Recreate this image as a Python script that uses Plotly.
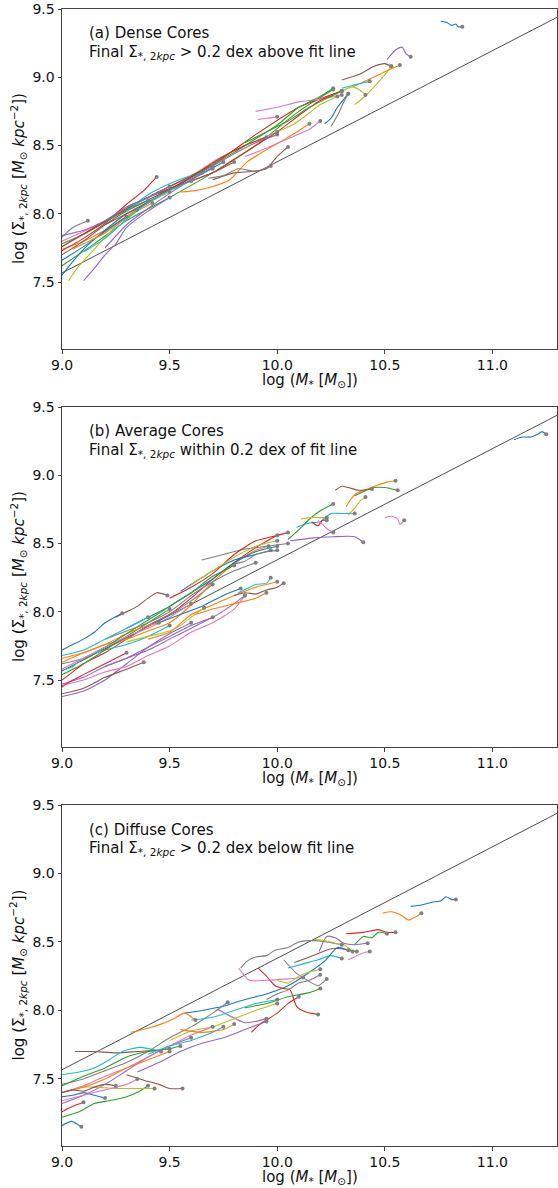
import plotly.graph_objects as go

# ---------------- data ----------------
FIT_X = [9.0, 11.3]
FIT_Y = [7.567, 9.439]

# Panel (a) Dense cores: tracks (x lists, y lists)
A_X = [
    [10.76, 10.79, 10.81, 10.83, 10.84, 10.86],
    [9.0, 9.1, 9.2, 9.3, 9.42],
    [9.0, 9.15, 9.3, 9.5, 9.7, 9.9, 10.1, 10.26],
    [9.0, 9.1, 9.2, 9.3, 9.38, 9.44],
    [9.1, 9.15, 9.2, 9.25, 9.3, 9.4, 9.5],
    [9.0, 9.1, 9.2, 9.3, 9.4, 9.5, 9.6, 9.7],
    [9.0, 9.1, 9.25, 9.4, 9.55, 9.7, 9.85, 10.0],
    [9.0, 9.05, 9.12],
    [9.03, 9.08, 9.15, 9.22, 9.3, 9.4, 9.5],
    [9.0, 9.1, 9.2, 9.35, 9.5, 9.6, 9.7],
    [9.0, 9.05, 9.1, 9.2, 9.3, 9.45, 9.6, 9.75],
    [9.55, 9.62, 9.7, 9.78, 9.86, 9.95, 10.05, 10.15],
    [9.0, 9.1, 9.2, 9.3, 9.4],
    [9.0, 9.15, 9.3, 9.5, 9.7, 9.9, 10.1, 10.3],
    [9.2, 9.3, 9.4, 9.5, 9.6, 9.7],
    [9.7, 9.8, 9.88, 9.95, 10.0, 10.05],
    [9.9, 10.0, 10.1, 10.2, 10.3],
    [9.3, 9.4, 9.5, 9.6, 9.7, 9.8, 9.9, 10.0],
    [10.36, 10.40, 10.45, 10.5, 10.53],
    [9.3, 9.4, 9.5, 9.6, 9.65],
    [10.22, 10.25, 10.28, 10.31, 10.33],
    [10.35, 10.42, 10.5, 10.57],
    [9.6, 9.7, 9.8, 9.9, 10.0, 10.1, 10.2, 10.26],
    [9.5, 9.6, 9.7, 9.8, 9.9, 10.0, 10.1, 10.2, 10.3],
    [10.51, 10.55, 10.58, 10.60, 10.62],
    [10.30, 10.38, 10.45, 10.50, 10.53],
    [9.91, 9.95, 10.0],
    [10.25, 10.28, 10.31, 10.33],
    [10.30, 10.35, 10.38, 10.41],
    [10.30, 10.35, 10.40, 10.43],
    [9.0, 9.1, 9.2, 9.3],
    [9.05, 9.1, 9.2, 9.3, 9.35],
    [9.85, 9.95, 10.05, 10.15, 10.25, 10.3],
    [9.45, 9.55, 9.65, 9.75, 9.85, 9.95],
    [9.0, 9.1, 9.2, 9.3, 9.4, 9.5],
    [9.2, 9.3, 9.4, 9.5, 9.6, 9.7, 9.8],
    [9.85, 9.95, 10.05, 10.15, 10.2],
    [9.68, 9.75, 9.82, 9.9, 9.97],
    [10.0, 10.08, 10.15, 10.2, 10.28],
    [9.1, 9.2, 9.3, 9.4, 9.5, 9.6],
]
A_Y = [
    [9.41, 9.40, 9.38, 9.39, 9.37, 9.37],
    [7.74, 7.80, 7.88, 7.98, 8.08],
    [7.62, 7.78, 7.95, 8.12, 8.30, 8.50, 8.75, 8.91],
    [7.73, 7.82, 7.93, 8.07, 8.17, 8.27],
    [7.51, 7.60, 7.70, 7.78, 7.90, 8.02, 8.12],
    [7.70, 7.80, 7.92, 8.02, 8.10, 8.18, 8.27, 8.36],
    [7.80, 7.87, 7.99, 8.12, 8.22, 8.38, 8.50, 8.60],
    [7.83, 7.90, 7.95],
    [7.51, 7.62, 7.74, 7.86, 7.98, 8.08, 8.16],
    [7.76, 7.85, 7.94, 8.08, 8.20, 8.27, 8.33],
    [7.55, 7.65, 7.74, 7.88, 8.00, 8.13, 8.25, 8.38],
    [8.16, 8.17, 8.20, 8.25, 8.38, 8.47, 8.56, 8.66],
    [7.78, 7.85, 7.94, 8.03, 8.10],
    [7.76, 7.90, 8.04, 8.20, 8.36, 8.58, 8.78, 8.90],
    [7.75, 7.92, 8.04, 8.15, 8.25, 8.34],
    [8.25, 8.30, 8.31, 8.33, 8.42, 8.49],
    [8.75, 8.78, 8.82, 8.84, 8.87],
    [8.05, 8.12, 8.18, 8.26, 8.35, 8.44, 8.52, 8.58],
    [8.80, 8.85, 8.93, 9.02, 9.08],
    [8.02, 8.14, 8.22, 8.28, 8.30],
    [8.66, 8.70, 8.78, 8.84, 8.88],
    [8.93, 8.98, 9.04, 9.09],
    [8.28, 8.36, 8.45, 8.55, 8.65, 8.78, 8.86, 8.92],
    [8.18, 8.24, 8.30, 8.40, 8.50, 8.60, 8.72, 8.83, 8.90],
    [9.13, 9.20, 9.22, 9.17, 9.15],
    [8.98, 9.02, 9.08, 9.10, 9.08],
    [8.69, 8.70, 8.71],
    [8.64, 8.72, 8.82, 8.88],
    [8.90, 8.93, 8.91, 8.87],
    [8.92, 8.94, 8.96, 8.97],
    [7.66, 7.76, 7.87, 7.98],
    [7.74, 7.78, 7.86, 7.97, 8.03],
    [8.52, 8.60, 8.68, 8.78, 8.86, 8.90],
    [8.15, 8.22, 8.32, 8.42, 8.50, 8.56],
    [7.84, 7.88, 7.95, 8.05, 8.12, 8.20],
    [7.92, 8.00, 8.08, 8.18, 8.24, 8.30, 8.38],
    [8.42, 8.48, 8.55, 8.62, 8.68],
    [8.26, 8.28, 8.33, 8.31, 8.35],
    [8.60, 8.66, 8.74, 8.80, 8.86],
    [7.72, 7.82, 7.96, 8.08, 8.17, 8.24],
]

# Panel (b) Average cores
B_X = [
    [11.10, 11.14, 11.18, 11.21, 11.23, 11.25],
    [10.32, 10.34, 10.37, 10.42, 10.47, 10.51, 10.55],
    [10.36, 10.40, 10.45, 10.50, 10.56],
    [9.0, 9.05, 9.1, 9.2, 9.3, 9.4, 9.5, 9.6, 9.7, 9.8, 9.9, 10.0],
    [10.06, 10.16, 10.26, 10.36, 10.40],
    [10.27, 10.30, 10.33, 10.38, 10.44],
    [10.50, 10.53, 10.56, 10.57, 10.59],
    [9.0, 9.1, 9.2, 9.3, 9.4, 9.5, 9.6, 9.7],
    [10.33, 10.36, 10.39, 10.41],
    [10.09, 10.15, 10.20, 10.25, 10.30, 10.36],
    [9.0, 9.05, 9.1, 9.15, 9.2, 9.28],
    [9.0, 9.1, 9.2, 9.3, 9.4, 9.5, 9.6, 9.7, 9.8, 9.9, 9.96],
    [10.05, 10.10, 10.15, 10.20, 10.26],
    [10.16, 10.19, 10.21, 10.23],
    [9.0, 9.1, 9.2, 9.3, 9.4, 9.5, 9.6],
    [9.25, 9.3, 9.35, 9.4, 9.44, 9.49],
    [10.19, 10.21, 10.23, 10.26],
    [9.65, 9.75, 9.85, 9.95, 10.05],
    [10.11, 10.15, 10.20, 10.23],
    [9.0, 9.05, 9.1, 9.2, 9.3, 9.4, 9.5],
    [9.55, 9.6, 9.7, 9.8, 9.9, 9.97],
    [9.4, 9.5, 9.6, 9.7, 9.8, 9.9, 10.0],
    [9.0, 9.1, 9.2, 9.3, 9.4, 9.5],
    [9.5, 9.6, 9.7, 9.8, 9.9, 10.0, 10.05],
    [9.0, 9.1, 9.2, 9.3, 9.4, 9.5, 9.6, 9.7],
    [9.8, 9.85, 9.9, 9.95, 10.0, 10.03],
    [9.0, 9.1, 9.2, 9.3, 9.4, 9.5, 9.6, 9.7, 9.8, 9.85],
    [9.8, 9.85, 9.9, 9.95, 10.0],
    [9.3, 9.4, 9.5, 9.55, 9.6, 9.66],
    [9.82, 9.86, 9.9, 9.95, 9.97],
    [9.3, 9.4, 9.5, 9.6, 9.7, 9.8, 9.9, 10.0],
    [9.0, 9.1, 9.2, 9.3, 9.4, 9.45],
    [9.1, 9.2, 9.3, 9.4, 9.5, 9.6, 9.7, 9.8],
    [9.0, 9.05, 9.1, 9.2, 9.3],
    [9.2, 9.3, 9.4, 9.5, 9.6, 9.7, 9.8, 9.85],
    [9.0, 9.1, 9.2, 9.3, 9.38],
    [9.0, 9.1, 9.2, 9.3, 9.4, 9.5, 9.6],
    [9.2, 9.3, 9.4, 9.5, 9.6, 9.7, 9.8, 9.9],
    [9.6, 9.7, 9.8, 9.9, 10.0],
    [9.0, 9.1, 9.2, 9.3, 9.4],
    [9.45, 9.55, 9.65, 9.75, 9.83],
    [9.62, 9.7, 9.8, 9.9, 9.95],
]
B_Y = [
    [9.26, 9.28, 9.28, 9.30, 9.32, 9.30],
    [8.77, 8.82, 8.87, 8.90, 8.93, 8.95, 8.96],
    [8.85, 8.88, 8.91, 8.91, 8.89],
    [7.50, 7.56, 7.62, 7.70, 7.80, 7.90, 7.98, 8.10, 8.24, 8.36, 8.47, 8.56],
    [8.52, 8.54, 8.55, 8.55, 8.51],
    [8.89, 8.92, 8.91, 8.89, 8.90],
    [8.69, 8.70, 8.68, 8.64, 8.67],
    [7.62, 7.66, 7.74, 7.80, 7.90, 7.98, 8.08, 8.20],
    [8.71, 8.76, 8.82, 8.84],
    [8.62, 8.65, 8.66, 8.72, 8.72, 8.72],
    [7.72, 7.76, 7.80, 7.85, 7.92, 7.99],
    [7.66, 7.70, 7.76, 7.80, 7.86, 7.92, 8.05, 8.22, 8.35, 8.45, 8.48],
    [8.53, 8.60, 8.68, 8.74, 8.79],
    [8.66, 8.63, 8.67, 8.67],
    [7.38, 7.42, 7.50, 7.62, 7.74, 7.84, 7.92],
    [7.96, 8.00, 8.04, 8.10, 8.14, 8.12],
    [8.67, 8.64, 8.61, 8.58],
    [8.38, 8.42, 8.46, 8.48, 8.50],
    [8.68, 8.69, 8.69, 8.69],
    [7.57, 7.60, 7.66, 7.72, 7.76, 7.82, 7.90],
    [8.15, 8.20, 8.30, 8.38, 8.42, 8.45],
    [7.80, 7.85, 7.98, 8.05, 8.12, 8.18, 8.22],
    [7.54, 7.62, 7.72, 7.82, 7.92, 8.02],
    [8.10, 8.18, 8.28, 8.42, 8.52, 8.56, 8.58],
    [7.47, 7.52, 7.60, 7.66, 7.72, 7.80, 7.88, 7.96],
    [8.12, 8.14, 8.13, 8.16, 8.18, 8.21],
    [7.46, 7.50, 7.56, 7.60, 7.68, 7.75, 7.85, 7.92, 8.02, 8.12],
    [8.35, 8.37, 8.42, 8.44, 8.45],
    [7.78, 7.82, 7.86, 7.90, 7.96, 8.03],
    [8.14, 8.17, 8.20, 8.21, 8.25],
    [7.88, 7.96, 8.04, 8.14, 8.24, 8.36, 8.44, 8.48],
    [7.63, 7.70, 7.76, 7.84, 7.90, 7.92],
    [7.65, 7.74, 7.84, 7.94, 8.04, 8.14, 8.26, 8.34],
    [7.45, 7.50, 7.54, 7.62, 7.70],
    [7.60, 7.66, 7.74, 7.82, 7.90, 7.96, 8.06, 8.12],
    [7.40, 7.44, 7.52, 7.58, 7.63],
    [7.58, 7.66, 7.74, 7.82, 7.88, 7.96, 8.06],
    [7.80, 7.86, 7.92, 8.00, 8.12, 8.22, 8.30, 8.36],
    [8.20, 8.30, 8.40, 8.48, 8.52],
    [7.68, 7.72, 7.80, 7.88, 7.96],
    [7.92, 7.98, 8.04, 8.12, 8.17],
    [7.98, 8.02, 8.06, 8.10, 8.14],
]

# Panel (c) Diffuse cores
C_X = [
    [10.62, 10.67, 10.72, 10.76, 10.785, 10.81, 10.83],
    [10.49, 10.53, 10.57, 10.61, 10.64, 10.67],
    [10.36, 10.40, 10.44, 10.47, 10.51],
    [10.32, 10.40, 10.47, 10.51, 10.55],
    [10.195, 10.23, 10.27, 10.31, 10.36, 10.42],
    [10.08, 10.15, 10.25, 10.30, 10.33],
    [10.33, 10.37, 10.40, 10.43],
    [9.83, 9.86, 9.90, 9.95, 9.99, 10.05, 10.10, 10.17, 10.23, 10.30],
    [10.17, 10.22, 10.27, 10.31, 10.35],
    [10.05, 10.12, 10.19, 10.25, 10.30],
    [9.57, 9.65, 9.75, 9.85, 9.95, 10.05, 10.16, 10.22, 10.28, 10.33, 10.37],
    [9.32, 9.40, 9.46, 9.52, 9.57, 9.62],
    [9.0, 9.08, 9.15, 9.22, 9.30, 9.36, 9.40],
    [9.91, 9.95, 9.99, 10.03, 10.06, 10.09, 10.13, 10.19],
    [9.0, 9.1, 9.2, 9.3, 9.4, 9.5, 9.6],
    [9.06, 9.15, 9.25, 9.35, 9.45, 9.50],
    [9.0, 9.1, 9.2, 9.3, 9.4, 9.5, 9.6, 9.7],
    [9.0, 9.1, 9.2, 9.3, 9.4, 9.5, 9.6, 9.7, 9.77],
    [9.08, 9.15, 9.25, 9.35, 9.43],
    [9.0, 9.08, 9.15, 9.22, 9.28, 9.36, 9.46],
    [9.0, 9.045, 9.09],
    [9.0, 9.1, 9.2, 9.3, 9.4, 9.5],
    [9.0, 9.1, 9.2, 9.3, 9.4, 9.5, 9.55],
    [9.88, 9.92, 9.95, 10.0, 10.05, 10.1],
    [9.72, 9.78, 9.85, 9.90, 9.95],
    [9.30, 9.38, 9.45, 9.50, 9.56],
    [9.82, 9.84, 9.87, 9.95, 10.05, 10.12],
    [10.03, 10.09, 10.14, 10.19, 10.23],
    [9.5, 9.6, 9.7, 9.8, 9.9, 10.0],
    [9.4, 9.5, 9.6, 9.7, 9.75],
    [9.0, 9.05, 9.1, 9.15, 9.2],
    [9.55, 9.65, 9.75, 9.8],
    [9.85, 9.95, 10.05, 10.15, 10.2],
    [9.0, 9.05, 9.1],
    [9.35, 9.45, 9.55, 9.65, 9.75, 9.85, 9.95],
    [9.0, 9.05, 9.1, 9.15, 9.2, 9.25],
    [9.0, 9.1, 9.2, 9.3, 9.35],
    [9.95, 10.0, 10.05, 10.1, 10.15, 10.2],
    [10.0, 10.05, 10.1, 10.15, 10.2],
    [9.6, 9.7, 9.8, 9.9, 10.0],
]
C_Y = [
    [8.76, 8.77, 8.79, 8.80, 8.83, 8.81, 8.81],
    [8.71, 8.72, 8.70, 8.66, 8.68, 8.71],
    [8.48, 8.54, 8.53, 8.57, 8.56],
    [8.56, 8.57, 8.59, 8.57, 8.57],
    [8.43, 8.54, 8.53, 8.49, 8.48, 8.49],
    [8.35, 8.39, 8.45, 8.45, 8.44],
    [8.37, 8.40, 8.42, 8.43],
    [8.31, 8.36, 8.39, 8.40, 8.44, 8.46, 8.50, 8.51, 8.50, 8.48],
    [8.52, 8.51, 8.49, 8.48, 8.43],
    [8.31, 8.34, 8.37, 8.40, 8.38],
    [7.98, 8.00, 8.03, 8.08, 8.12, 8.18, 8.29, 8.36, 8.46, 8.44, 8.43],
    [7.84, 7.87, 7.90, 7.94, 7.98, 7.93],
    [7.22, 7.26, 7.32, 7.34, 7.37, 7.41, 7.45],
    [8.31, 8.25, 8.18, 8.16, 8.15, 8.03, 7.99, 7.97],
    [7.32, 7.38, 7.46, 7.56, 7.66, 7.74, 7.80],
    [7.70, 7.70, 7.69, 7.70, 7.71, 7.72],
    [7.40, 7.45, 7.52, 7.58, 7.66, 7.74, 7.82, 7.88],
    [7.46, 7.50, 7.56, 7.62, 7.70, 7.80, 7.88, 7.98, 8.06],
    [7.44, 7.44, 7.43, 7.43, 7.43],
    [7.53, 7.55, 7.58, 7.64, 7.70, 7.73, 7.70],
    [7.16, 7.19, 7.15],
    [7.40, 7.44, 7.50, 7.58, 7.64, 7.70],
    [7.45, 7.52, 7.58, 7.66, 7.70, 7.72, 7.74],
    [7.84, 7.90, 7.93, 7.98, 8.05, 8.10],
    [8.01, 7.96, 7.91, 7.92, 7.94],
    [7.53, 7.49, 7.46, 7.43, 7.43],
    [8.31, 8.27, 8.22, 8.22, 8.23, 8.24],
    [8.37, 8.27, 8.22, 8.18, 8.23],
    [7.78, 7.85, 7.88, 7.94, 8.00, 8.05],
    [7.68, 7.74, 7.78, 7.84, 7.88],
    [7.37, 7.38, 7.40, 7.38, 7.36],
    [7.86, 7.84, 7.86, 7.90],
    [8.02, 8.05, 8.10, 8.13, 8.16],
    [7.26, 7.30, 7.33],
    [7.55, 7.62, 7.70, 7.76, 7.80, 7.86, 7.92],
    [7.40, 7.42, 7.41, 7.44, 7.46, 7.45],
    [7.34, 7.38, 7.42, 7.46, 7.50],
    [8.08, 8.12, 8.15, 8.20, 8.22, 8.26],
    [8.22, 8.20, 8.25, 8.28, 8.30],
    [7.93, 7.95, 8.00, 8.05, 8.08],
]

TITLES = [
    ["(a) Dense Cores", "Final Σ<sub>*, 2<i>kpc</i></sub> > 0.2 dex above fit line"],
    ["(b) Average Cores", "Final Σ<sub>*, 2<i>kpc</i></sub> within 0.2 dex of fit line"],
    ["(c) Diffuse Cores", "Final Σ<sub>*, 2<i>kpc</i></sub> > 0.2 dex below fit line"],
]
X_TICKS = [9.0, 9.5, 10.0, 10.5, 11.0]
Y_TICKS = [7.5, 8.0, 8.5, 9.0, 9.5]

# ---------------- style ----------------
TAB10 = ["#1f77b4", "#ff7f0e", "#2ca02c", "#d62728", "#9467bd",
         "#8c564b", "#e377c2", "#7f7f7f", "#bcbd22", "#17becf"]
W, H = 558, 1188
PX_LEFT, PX_RIGHT = 62, 557
PANEL_PX = [(9, 349), (407, 747), (805, 1146)]
FONT = "DejaVu Sans"

fig = go.Figure()
panels = [(A_X, A_Y), (B_X, B_Y), (C_X, C_Y)]
for p, (XS, YS) in enumerate(panels):
    xa = "x" if p == 0 else f"x{p+1}"
    ya = "y" if p == 0 else f"y{p+1}"
    fig.add_trace(go.Scatter(x=FIT_X, y=FIT_Y, mode="lines", xaxis=xa, yaxis=ya,
                             line=dict(color="#222222", width=0.8), showlegend=False,
                             hoverinfo="skip"))
    for i, (xs, ys) in enumerate(zip(XS, YS)):
        fig.add_trace(go.Scatter(x=xs, y=ys, mode="lines", xaxis=xa, yaxis=ya,
                                 line=dict(color=TAB10[i % 10], width=1.1,
                                           shape="spline", smoothing=0.6),
                                 showlegend=False))
    fig.add_trace(go.Scatter(x=[xs[-1] for xs in XS], y=[ys[-1] for ys in YS],
                             mode="markers", xaxis=xa, yaxis=ya,
                             marker=dict(color="#7f7f7f", size=4), showlegend=False))

axis_common = dict(showline=True, linecolor="#444444", linewidth=1, mirror=True,
                   ticks="outside", ticklen=3.5, tickcolor="#444444", showgrid=False,
                   zeroline=False, automargin=False,
                   tickfont=dict(family=FONT, size=14, color="#111111"))
layout = dict(width=W, height=H, margin=dict(l=0, r=0, t=0, b=0),
              paper_bgcolor="white", plot_bgcolor="white", template="none")
annotations = []
for p, (top, bot) in enumerate(PANEL_PX):
    sx = "" if p == 0 else str(p + 1)
    layout["xaxis" + sx] = dict(axis_common, domain=[PX_LEFT / W, PX_RIGHT / W],
                                range=[9.0, 11.3], tickvals=X_TICKS,
                                ticktext=[f"{v:.1f}" for v in X_TICKS],
                                anchor="y" + sx)
    layout["yaxis" + sx] = dict(axis_common, domain=[1 - bot / H, 1 - top / H],
                                range=[7.01, 9.5], tickvals=Y_TICKS,
                                ticktext=[f"{v:.1f}" for v in Y_TICKS],
                                anchor="x" + sx)
    annotations.append(dict(text=TITLES[p][0], xref=f"x{sx} domain", yref=f"y{sx} domain",
                            x=0.05, y=0.928, xanchor="left", yanchor="middle",
                            showarrow=False, font=dict(family=FONT, size=15, color="#111")))
    annotations.append(dict(text=TITLES[p][1], xref=f"x{sx} domain", yref=f"y{sx} domain",
                            x=0.05, y=0.872, xanchor="left", yanchor="middle",
                            showarrow=False, font=dict(family=FONT, size=15, color="#111")))
    annotations.append(dict(text="log (<i>M</i><sub>*</sub> [<i>M</i><sub>⊙</sub>])",
                            xref="paper", yref="paper", x=(PX_LEFT + PX_RIGHT) / 2 / W,
                            y=1 - (bot + 31) / H, xanchor="center", yanchor="middle",
                            showarrow=False, font=dict(family=FONT, size=15, color="#111")))
    annotations.append(dict(text="log (Σ<sub>*, 2<i>kpc</i></sub> [<i>M</i><sub>⊙</sub> <i>kpc</i><sup>−2</sup>])",
                            xref="paper", yref="paper", x=18 / W,
                            y=1 - (top + bot) / 2 / H, xanchor="center", yanchor="middle",
                            textangle=-90, showarrow=False,
                            font=dict(family=FONT, size=15, color="#111")))
layout["annotations"] = annotations
fig.update_layout(**layout)
fig.write_html("out.html")
